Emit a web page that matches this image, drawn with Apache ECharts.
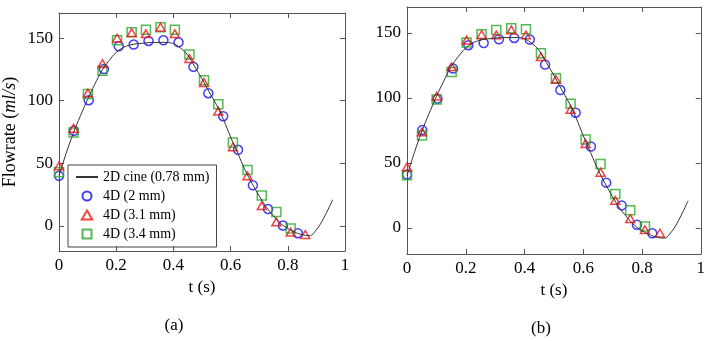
<!DOCTYPE html>
<html>
<head>
<meta charset="utf-8">
<script src="https://cdn.jsdelivr.net/npm/echarts@6.0.0/dist/echarts.min.js"></script>
<style>
  html, body { margin: 0; padding: 0; background: #fff; }
  #main { width: 708px; height: 341px; }
</style>
</head>
<body>
<div id="main"></div>
<script>
// 2D cine reference curve (same in both panels)
var cineT = [0, 0.025, 0.05, 0.075, 0.1, 0.125, 0.15, 0.175, 0.2, 0.225, 0.25, 0.275, 0.3, 0.325, 0.35, 0.375, 0.4, 0.425, 0.45, 0.475, 0.5, 0.525, 0.55, 0.575, 0.6, 0.625, 0.65, 0.675, 0.7, 0.725, 0.75, 0.775, 0.8, 0.825, 0.85, 0.875, 0.9, 0.925, 0.957];
var cineQ = [40, 58, 74, 88, 101, 113, 124, 132, 138.5, 142.5, 144.5, 145.5, 146, 146.5, 146.5, 146.5, 145.5, 142, 136.5, 127, 117.5, 107, 97, 85, 71, 58, 45, 34, 24, 15, 8, 2, -2, -5, -7, -7.8, -3, 6, 21];

// sample times of the 4D acquisitions
var t2mm = [0, 0.052, 0.104, 0.157, 0.209, 0.261, 0.313, 0.365, 0.418, 0.47, 0.522, 0.574, 0.626, 0.678, 0.731, 0.783, 0.835];
var t3mm = [0, 0.051, 0.101, 0.152, 0.203, 0.254, 0.304, 0.355, 0.405, 0.456, 0.507, 0.557, 0.608, 0.659, 0.709, 0.76, 0.81, 0.861];

// panel (a)
var circA = [40, 76, 100.4, 125.3, 143.4, 144.8, 147.7, 148.2, 146.6, 127, 106, 87.6, 60.8, 32.4, 13.5, 0.3, -5.8];
var triA  = [48, 78, 106.2, 129.6, 150, 154.3, 153.5, 158.8, 153.5, 133.6, 114.5, 91.6, 63.2, 40, 16.2, 3.2, -5, -6.9];
var sqA   = [42.8, 74.6, 105.4, 123.8, 148.2, 154.6, 156.7, 158.6, 156.7, 136.8, 116.3, 97.2, 66.7, 44.6, 24.4, 11.2, -2.1];

// panel (b)
var circB = [41.1, 75.3, 99.5, 122.6, 140.6, 142.3, 145.2, 146.2, 145, 125.7, 106.1, 88.7, 62.7, 34.9, 17.4, 2.5, -4.1];
var triB  = [47, 74, 101.5, 124.1, 144.6, 148.8, 148.5, 152.4, 148.5, 131.8, 114.3, 91.2, 65, 42.9, 21.3, 7.2, -1.3, -3.9];
var sqB   = [40.6, 71.2, 98.9, 120, 142.6, 149, 152.4, 153.7, 152.9, 134.4, 115.1, 95.6, 68.1, 49.3, 26.2, 13.6, 1.2];

var yTicks = [0, 50, 100, 150];
var names = ['2D cine (0.78 mm)', '4D (2 mm)', '4D (3.1 mm)', '4D (3.4 mm)'];

var FONT = 'Liberation Serif';
var FRAME = '#555';
var BLUE = '#1010f0', RED = '#f01414', GREEN = '#2aa82a';
// path icons keep their aspect in the legend (built-in ones get stretched)
var TRI = 'path://M5,0L10,8.66L0,8.66Z';
var SQ = 'path://M0,0L10,0L10,10L0,10Z';

function pairs(xs, ys) {
    return ys.map(function (v, i) { return [xs[i], v]; });
}

var myChart = echarts.init(document.getElementById('main'));

function xAxisFor(grid, pos, withLabel) {
    return {
        type: 'value', gridIndex: grid, position: pos,
        min: 0, max: 1, interval: 0.2,
        name: withLabel ? 't (s)' : '',
        nameLocation: 'middle', nameGap: 28,
        nameTextStyle: { fontFamily: FONT, fontSize: 17, color: '#000' },
        axisLine: { show: true, onZero: false, lineStyle: { color: FRAME, width: 1 } },
        axisTick: { show: true, inside: true, length: 5, lineStyle: { color: FRAME } },
        axisLabel: { show: withLabel, margin: 6, fontFamily: FONT, fontSize: 17, color: '#000' },
        splitLine: { show: false }
    };
}

function yAxisFor(grid, pos, withLabel, title) {
    return {
        type: 'value', gridIndex: grid, position: pos,
        min: -20, max: 170,
        name: title || '',
        nameLocation: 'middle', nameGap: 40, nameRotate: 90,
        nameTextStyle: {
            fontFamily: FONT, fontSize: 18, color: '#000',
            rich: {
                r: { fontFamily: FONT, fontSize: 18, color: '#000' },
                i: { fontFamily: FONT, fontSize: 18, fontStyle: 'italic', color: '#000' }
            }
        },
        axisLine: { show: true, onZero: false, lineStyle: { color: FRAME, width: 1 } },
        axisTick: { show: true, inside: true, length: 5, customValues: yTicks, lineStyle: { color: FRAME } },
        axisLabel: { show: withLabel, margin: 6, customValues: yTicks, fontFamily: FONT, fontSize: 17, color: '#000' },
        splitLine: { show: false }
    };
}

function markers(name, sym, color, xs, ys, idx) {
    return {
        name: name, type: 'scatter', xAxisIndex: idx, yAxisIndex: idx,
        symbol: sym, symbolSize: 9, symbolKeepAspect: true,
        itemStyle: { color: 'rgba(0,0,0,0)', borderColor: color, borderWidth: 1.5 },
        data: pairs(xs, ys)
    };
}

function cine(idx) {
    return {
        name: names[0], type: 'line', xAxisIndex: idx, yAxisIndex: idx,
        showSymbol: false, smooth: 0.4,
        lineStyle: { color: '#333', width: 1 },
        itemStyle: { color: '#333' },
        data: pairs(cineT, cineQ)
    };
}

option = {
    animation: false,
    grid: [
        { left: 59, top: 13, width: 286, height: 238 },
        { left: 407, top: 7, width: 297, height: 247 }
    ],
    xAxis: [
        xAxisFor(0, 'bottom', true),
        xAxisFor(1, 'bottom', true),
        xAxisFor(0, 'top', false),
        xAxisFor(1, 'top', false)
    ],
    yAxis: [
        yAxisFor(0, 'left', true, '{r|Flowrate (}{i|ml/s}{r|)}'),
        yAxisFor(1, 'left', true),
        yAxisFor(0, 'right', false),
        yAxisFor(1, 'right', false)
    ],
    legend: {
        left: 68, top: 165, orient: 'vertical',
        data: [
            // hide the dot the line icon gets by default
            { name: names[0], itemStyle: { opacity: 0 } },
            { name: names[1] },
            { name: names[2], icon: TRI },
            { name: names[3], icon: SQ }
        ],
        itemWidth: 22, itemHeight: 9, itemGap: 5,
        symbolKeepAspect: true,
        padding: [5, 7, 6, 7],
        borderColor: '#444', borderWidth: 1,
        selectedMode: false,
        textStyle: { fontFamily: FONT, fontSize: 14, color: '#000' }
    },
    title: [
        { text: '(a)', left: 174, top: 317, textAlign: 'center', padding: 0,
          textStyle: { fontFamily: FONT, fontSize: 17, fontWeight: 'normal', color: '#000' } },
        { text: '(b)', left: 541, top: 320, textAlign: 'center', padding: 0,
          textStyle: { fontFamily: FONT, fontSize: 17, fontWeight: 'normal', color: '#000' } }
    ],
    series: [
        cine(0),
        markers(names[1], 'circle', BLUE, t2mm, circA, 0),
        markers(names[3], SQ, GREEN, t3mm, sqA, 0),
        markers(names[2], TRI, RED, t3mm, triA, 0),
        cine(1),
        markers(names[1], 'circle', BLUE, t2mm, circB, 1),
        markers(names[3], SQ, GREEN, t3mm, sqB, 1),
        markers(names[2], TRI, RED, t3mm, triB, 1)
    ]
};
myChart.setOption(option);
</script>
</body>
</html>
